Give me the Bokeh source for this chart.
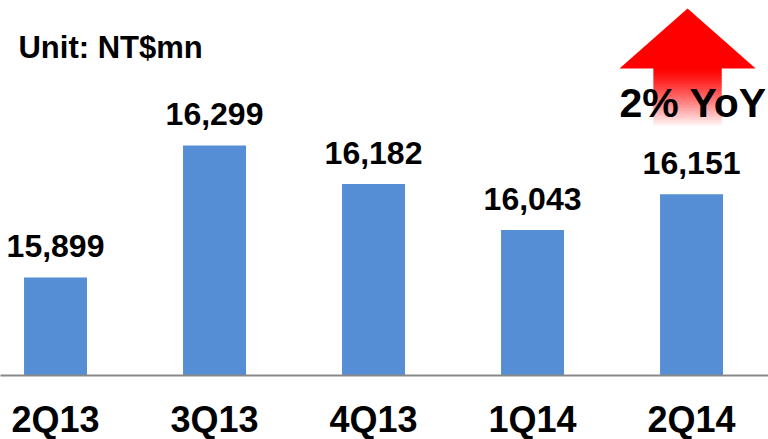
from bokeh.plotting import figure
from bokeh.models import Range1d, ColumnDataSource, FixedTicker
from bokeh.core.properties import value
from bokeh.embed import file_html
from bokeh.resources import INLINE

# ---- data ----
quarters = ["2Q13", "3Q13", "4Q13", "1Q14", "2Q14"]
revenue = [15899, 16299, 16182, 16043, 16151]
labels = ["15,899", "16,299", "16,182", "16,043", "16,151"]
unit_text = "Unit: NT$mn"
yoy_text = "2% YoY"

FONT = "Liberation Sans"
BAR = "#558ed5"

xs = list(range(len(quarters)))

p = figure(width=768, height=439, output_backend="svg", toolbar_location=None,
           x_range=Range1d(-0.346, 4.484), y_range=Range1d(15602, 16738),
           min_border=0, min_border_left=0, min_border_right=0, min_border_top=0)
p.frame_width = 768
p.frame_height = 375
p.outline_line_color = None
p.background_fill_color = "white"
p.border_fill_color = "white"
p.grid.visible = False
p.yaxis.visible = False

src = ColumnDataSource(dict(x=xs, top=revenue, label=labels))
p.vbar(x="x", top="top", bottom=15602, width=0.396, source=src,
       fill_color=BAR, line_color=None)
p.text(x="x", y="top", text="label", source=src, text_align="center",
       text_baseline="alphabetic", y_offset=-31, text_font=value(FONT),
       text_font_style="bold", text_font_size="32px", text_color="#000000")

ax = p.xaxis[0]
ax.ticker = FixedTicker(ticks=xs)
ax.major_label_overrides = {i: q for i, q in enumerate(quarters)}
ax.major_tick_line_color = None
ax.minor_tick_line_color = None
ax.major_tick_out = 0
ax.major_tick_in = 0
ax.axis_line_color = "#888888"
ax.axis_line_width = 2
ax.major_label_text_font = FONT
ax.major_label_text_font_style = "bold"
ax.major_label_text_font_size = "36px"
ax.major_label_text_color = "#000000"
ax.major_label_standoff = 23

# unit label
p.text(x=[-0.233], y=[16566], text=[unit_text], text_font=value(FONT),
       text_font_style="bold", text_font_size="31px", text_color="#000000",
       text_baseline="alphabetic", text_align="left", y_offset=-10)

# arrow (decoration): head solid red, shaft fading red -> white
head_x = [3.547, 3.975, 4.403]
head_y = [16532, 16714, 16532]
n = 40
y_top, y_bot = 16532, 16350
for i in range(n):
    t = i / (n - 1)
    y1 = y_top - (y_top - y_bot) * i / n
    y0 = y_top - (y_top - y_bot) * (i + 1) / n
    g = int(255 * min(1.0, t ** 1.25))
    col = "#%02x%02x%02x" % (255, g, g)
    p.quad(left=[3.761], right=[4.189], top=[y1 + 3], bottom=[y0], fill_color=col, line_color=None)
p.patch(head_x, head_y, fill_color="#ff0000", line_color=None)

p.text(x=[3.547], y=[16375], text=[yoy_text], text_font=value(FONT),
       text_font_style="bold", text_font_size="41px", text_color="#000000",
       text_baseline="alphabetic", text_align="left", y_offset=-17)

open("out.html", "w").write(file_html(p, INLINE))
